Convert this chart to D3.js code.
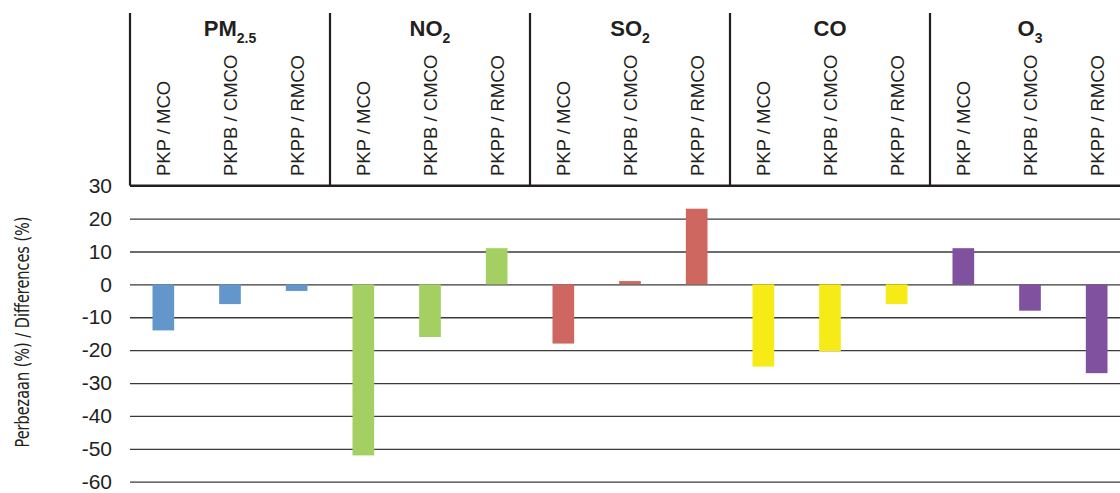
<!DOCTYPE html>
<html>
<head>
<meta charset="utf-8">
<script src="https://cdn.jsdelivr.net/npm/d3@7"></script>
<style>
  html, body { margin: 0; padding: 0; background: #fff; }
  svg { display: block; }
  text { font-family: "Liberation Sans", Arial, sans-serif; fill: #231f20; }
</style>
</head>
<body>
<svg id="chart" width="1120" height="493"></svg>
<script>
// Pollutant groups and their subscripts
const pollutants = ["PM", "NO", "SO", "CO", "O"];
const subscripts = ["2.5", "2", "2", "", "3"];
const groupColors = ["#6397cc", "#a4cf63", "#cd675f", "#f6eb17", "#7f519f"];

// Comparison periods within each group
const periods = ["PKP / MCO", "PKPB / CMCO", "PKPP / RMCO"];

// Percentage differences per pollutant, one value per period
const pm25 = [-14, -6, -2];
const no2 = [-52, -16, 11];
const so2 = [-18, 1, 23];
const co = [-25, -20.3, -6];
const o3 = [11, -8, -27];

const yTicks = [30, 20, 10, 0, -10, -20, -30, -40, -50, -60];
const yTitle = "Perbezaan (%) / Differences (%)";

const seriesValues = [pm25, no2, so2, co, o3];
const rows = [];
pollutants.forEach((p, gi) => {
  periods.forEach((per, pi) => {
    rows.push({ key: gi + "|" + pi, group: gi, period: per, value: seriesValues[gi][pi] });
  });
});

const svg = d3.select("#chart");
const left = 130, right = 1130, plotTop = 185.7, plotBottom = 481.7, headTop = 13;

const y = d3.scaleLinear().domain([-60, 30]).range([plotBottom, plotTop]);
const x = d3.scaleBand().domain(rows.map(d => d.key)).range([left, right])
  .paddingInner(0.675).paddingOuter(0.3375);
const g = d3.scaleBand().domain(pollutants.map((p, i) => i)).range([left, right]).padding(0);

// Y axis with full-width gridlines
const yAxis = d3.axisLeft(y).tickValues(yTicks).tickSize(-(1120 - left)).tickPadding(18)
  .tickFormat(d => String(d));
const ax = svg.append("g").attr("transform", `translate(${left},0)`).call(yAxis);
ax.select(".domain").remove();
ax.selectAll(".tick line").attr("stroke", "#3a3a3a").attr("stroke-width", 1.3);
ax.selectAll(".tick text")
  .style("font-family", '"Liberation Sans", Arial, sans-serif')
  .style("font-size", "21px").attr("fill", "#231f20");

// Bars
svg.append("g").selectAll("rect").data(rows).join("rect")
  .attr("x", d => x(d.key))
  .attr("width", x.bandwidth())
  .attr("y", d => y(Math.max(0, d.value)))
  .attr("height", d => Math.abs(y(d.value) - y(0)))
  .attr("fill", d => groupColors[d.group]);

// Header table: separators and bottom rule
const head = svg.append("g");
head.append("line").attr("x1", left).attr("x2", 1120)
  .attr("y1", y(30)).attr("y2", y(30))
  .attr("stroke", "#231f20").attr("stroke-width", 2.5);
head.selectAll("line.sep").data(pollutants.map((p, i) => i)).join("line")
  .attr("class", "sep")
  .attr("x1", d => g(d)).attr("x2", d => g(d))
  .attr("y1", headTop).attr("y2", y(30))
  .attr("stroke", "#231f20").attr("stroke-width", 2.2);

// Group titles with subscripts
const titles = head.selectAll("text.title").data(pollutants.map((p, i) => i)).join("text")
  .attr("class", "title")
  .attr("x", d => g(d) + g.bandwidth() / 2)
  .attr("y", 36)
  .attr("text-anchor", "middle")
  .style("font-weight", "bold")
  .style("font-size", "22px");
titles.append("tspan").text(d => pollutants[d]);
titles.append("tspan").text(d => subscripts[d])
  .attr("dy", d => subscripts[d] ? 7 : 0)
  .style("font-size", "14px");

// Rotated period labels
head.selectAll("text.period").data(rows).join("text")
  .attr("class", "period")
  .attr("transform", d => `translate(${x(d.key) + x.bandwidth() / 2 + 7},176) rotate(-90)`)
  .style("font-size", "18.5px")
  .text(d => d.period);

// Y axis title
svg.append("text")
  .attr("transform", "translate(29,332) rotate(-90)")
  .attr("text-anchor", "middle")
  .style("font-family", '"Liberation Sans Narrow", "DejaVu Sans Condensed", sans-serif')
  .style("font-size", "19px")
  .attr("textLength", 231)
  .attr("lengthAdjust", "spacingAndGlyphs")
  .text(yTitle);
</script>
</body>
</html>
